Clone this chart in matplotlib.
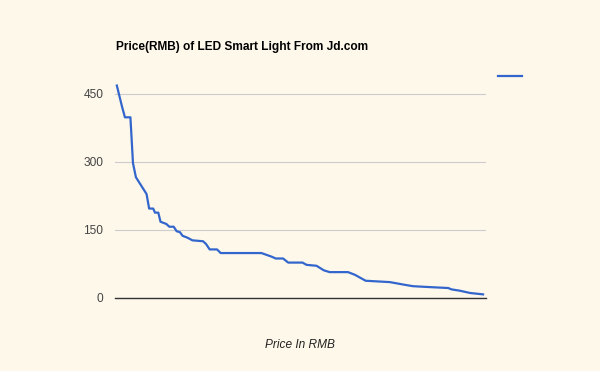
import matplotlib
matplotlib.use('Agg')
import matplotlib.pyplot as plt
from matplotlib.lines import Line2D

# item rank (sorted by price) and price in RMB
rank = [0, 1.4, 2.2, 3.7, 4.4, 5.2, 8.1, 8.8, 9.9, 10.4, 11.3, 11.9, 13.5, 14.3,
        15.5, 16.3, 17.2, 17.9, 19.2, 20.6, 23.5, 24.3, 25.3, 27.3, 28.3, 39.4,
        42.2, 43.3, 45.3, 46.7, 50.6, 51.7, 54.4, 56.4, 58.0, 63.0, 64.9, 67.8,
        74.4, 78.5, 80.7, 85.3, 90.3, 91.2, 93.5, 96.3, 99.8]
price = [468, 422, 398, 398, 297, 266, 229, 197, 197, 188, 188, 168, 163, 157,
         157, 147, 145, 137, 133, 127, 125, 119, 107, 107, 99, 99,
         91, 87, 87, 78, 78, 73, 71, 61, 57, 57, 51, 38,
         35, 29, 26, 24, 22, 19, 16, 11, 8]
yticks = [0, 150, 300, 450]

bg = '#fef8eb'
blue = '#3366cc'

plt.rcParams['font.family'] = ['Liberation Sans', 'DejaVu Sans']

fig = plt.figure(figsize=(6, 3.71), dpi=100, facecolor=bg)
ax = fig.add_axes([115 / 600, 73 / 371, 371 / 600, 227 / 371], facecolor=bg)

ax.plot(rank, price, color=blue, lw=1.6, solid_joinstyle='round')

ax.set_xlim(-0.5, 100.6)
ax.set_ylim(0, 500)
ax.set_yticks(yticks)
ax.set_yticklabels([str(v) for v in yticks], color='#444444', fontsize=8.6)
ax.set_xticks([])
ax.tick_params(axis='y', length=0, pad=8.5)
ax.grid(axis='y', color='#cccccc', lw=0.8)
ax.set_axisbelow(True)
for s in ['top', 'right', 'left']:
    ax.spines[s].set_visible(False)
ax.spines['bottom'].set_color('#333333')
ax.spines['bottom'].set_linewidth(1.0)

fig.text(116 / 600, 1 - 47 / 371, 'Price(RMB) of LED Smart Light From Jd.com',
         fontsize=8.6, fontweight='bold', ha='left', va='center', color='black')
fig.text(300 / 600, 1 - 345 / 371, 'Price In RMB', fontsize=8.6, style='italic',
         ha='center', va='center', color='#222222')

# legend sample with no label
fig.add_artist(Line2D([498 / 600, 522 / 600], [1 - 76 / 371, 1 - 76 / 371],
                      color=blue, lw=1.6, transform=fig.transFigure))

fig.savefig('out.png', dpi=100, facecolor=bg)
